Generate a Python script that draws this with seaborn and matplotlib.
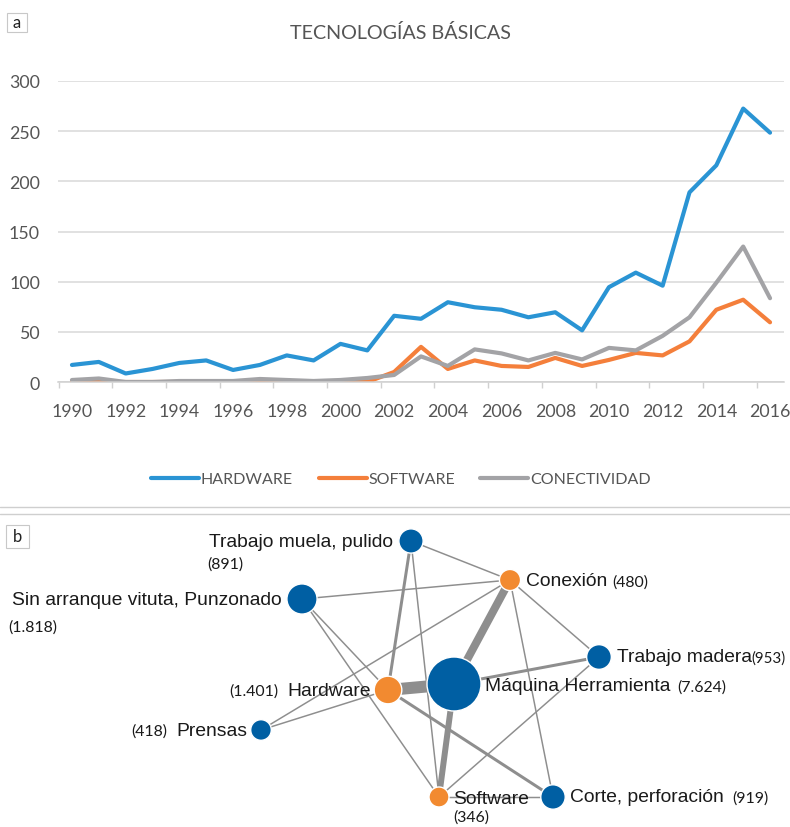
import numpy as np
import pandas as pd
import matplotlib.pyplot as plt
import seaborn as sns
from matplotlib.patches import Rectangle

# ---- datos panel a ----
years = list(range(1990, 2017))
hardware = [17, 20, 8.5, 13, 19, 21.5, 12, 17, 26.5, 21.5, 38, 31.5, 66,
            63, 79.5, 74.5, 72, 64.5, 69.5, 51.5, 94.5, 109, 96, 189, 216, 272.5, 248.5]
software = [0, 0, 0, 0, 0, 0, 0, 1, 0, 0, 0, 0, 10,
            35, 13, 21.5, 16, 15, 24, 16, 22, 29, 26.5, 40.5, 72, 82, 59.5]
conectividad = [2, 3.5, 0, 0, 1, 1, 1, 3, 2, 1, 2, 4, 7,
                25.5, 16, 32.5, 28.5, 21.5, 29, 22.5, 34, 31.5, 46, 64.5, 99, 135, 83.5]
series = ["HARDWARE", "SOFTWARE", "CONECTIVIDAD"]
series_colors = ["#2A94D4", "#F47F3B", "#A3A3A6"]

# ---- datos panel b (red) ----
node_names = ["Trabajo muela, pulido", "Sin arranque vituta, Punzonado", "Conexión",
              "Trabajo madera", "Máquina Herramienta", "Hardware", "Prensas",
              "Software", "Corte, perforación"]
node_counts = [891, 1818, 480, 953, 7624, 1401, 418, 346, 919]
node_type = ["maquina", "maquina", "tecnologia", "maquina", "maquina",
             "tecnologia", "maquina", "tecnologia", "maquina"]
node_x = [411, 302, 510, 599, 454, 388, 261, 439, 553]
node_y = [542, 600, 581, 658, 685, 691, 731, 798, 798]
count_labels = ["(891)", "(1.818)", "(480)", "(953)", "(7.624)", "(1.401)", "(418)", "(346)", "(919)"]
edges = [(0, 2, 1.5), (0, 5, 3), (0, 7, 1.5), (1, 2, 1.5), (1, 5, 1.5), (1, 7, 1.5),
         (2, 4, 8), (2, 3, 1.5), (2, 8, 1.5), (2, 6, 1.5), (6, 5, 1.5), (3, 4, 3),
         (3, 7, 1.5), (4, 5, 12), (4, 7, 6), (5, 8, 3), (7, 8, 1.5)]

sns.set_theme(style="white")
plt.rcParams["font.family"] = ["Lato", "DejaVu Sans"]

fig = plt.figure(figsize=(7.9, 8.28), dpi=100)
W, H = 790, 828

# ---------- panel a ----------
ax = fig.add_axes([58 / W, 1 - 383 / H, (784 - 58) / W, (383 - 82) / H])
df = pd.DataFrame({
    "año": years * 3,
    "valor": hardware + software + conectividad,
    "serie": [s for s in series for _ in years],
})
sns.lineplot(data=df, x="año", y="valor", hue="serie", hue_order=series,
             palette=series_colors, linewidth=3, legend=False, ax=ax)
for ln in ax.lines:
    ln.set_solid_joinstyle("round")
    ln.set_solid_capstyle("round")
ax.set_xlim(1989.48, 2016.52)
ax.set_ylim(0, 300)
ax.set_yticks([0, 50, 100, 150, 200, 250, 300])
ax.set_xticks(list(range(1990, 2017, 2)))
ax.set_xticks(np.arange(1989.5, 2017, 2), minor=True)
ax.grid(axis="y", color="#D9D9D9", linewidth=1.1)
ax.set_axisbelow(True)
for s in ["top", "right", "left"]:
    ax.spines[s].set_visible(False)
ax.spines["bottom"].set_color("#D0D0D0")
ax.spines["bottom"].set_linewidth(1.1)
ax.tick_params(axis="y", length=0, pad=13, labelsize=12.8, labelcolor="#555555")
ax.tick_params(axis="x", which="major", length=0, pad=15, labelsize=12.8, labelcolor="#555555")
ax.tick_params(axis="x", which="minor", length=4, width=1, color="#D0D0D0", bottom=True)
ax.set_xlabel("")
ax.set_ylabel("")
fig.text(400 / W, 1 - 33 / H, "TECNOLOGÍAS BÁSICAS", ha="center", va="center",
         fontsize=14.2, color="#555555")
ax.legend(handles=ax.lines[:3], labels=series, loc="center",
          bbox_to_anchor=(401 / W, 1 - 480 / H), bbox_transform=fig.transFigure,
          ncol=3, frameon=False, fontsize=11.5, handlelength=3.0, handletextpad=0.1,
          columnspacing=1.6, labelcolor="#555555")

# ---------- overlay / panel b ----------
axn = fig.add_axes([0, 0, 1, 1], zorder=-1)
axn.set_xlim(0, W)
axn.set_ylim(H, 0)
axn.axis("off")

# recuadros a / b y separadores
for (x0, y0, w, h, t) in [(7, 14, 20, 19, "a"), (6, 526, 23, 23, "b")]:
    axn.add_patch(Rectangle((x0, y0), w, h, fill=False, edgecolor="#C8C8C8", linewidth=0.8))
    axn.text(x0 + w / 2, y0 + h / 2, t, ha="center", va="center", fontsize=12,
             color="#222222", family=["Lato", "DejaVu Sans"])
axn.axhline(508, color="#CFCFCF", linewidth=1)
axn.axhline(515, color="#CFCFCF", linewidth=1)

for a, b, w in edges:
    axn.plot([node_x[a], node_x[b]], [node_y[a], node_y[b]], color="#8E8E8E",
             linewidth=w / 1.389, solid_capstyle="butt", zorder=1)

net = pd.DataFrame({"x": node_x, "y": node_y, "n": node_counts, "tipo": node_type})
sns.scatterplot(data=net, x="x", y="y", size="n", sizes=(207, 1512),
                size_norm=(346, 7624), hue="tipo",
                palette={"maquina": "#005FA3", "tecnologia": "#F28A30"},
                edgecolor="white", linewidth=1, legend=False, ax=axn, zorder=3)
axn.set_xlim(0, W)
axn.set_ylim(H, 0)
axn.axis("off")

name_font = dict(fontsize=13.9, color="#1A1A1A", family=["Liberation Sans", "DejaVu Sans"],
                 va="center", zorder=4)
num_font = dict(fontsize=11.4, color="#1A1A1A", family=["Lato", "DejaVu Sans"],
                va="center", zorder=4)

# nombres
axn.text(393, 543, node_names[0], ha="right", **name_font)
axn.text(282, 601, node_names[1], ha="right", **name_font)
axn.text(526, 582, node_names[2], ha="left", **name_font)
axn.text(617, 658, node_names[3], ha="left", **name_font)
axn.text(485, 687, node_names[4], ha="left", **name_font)
axn.text(371, 692, node_names[5], ha="right", **name_font)
axn.text(247, 732, node_names[6], ha="right", **name_font)
axn.text(453, 800, node_names[7], ha="left", **name_font)
axn.text(570, 798, node_names[8], ha="left", **name_font)
# cantidades
axn.text(207, 565, count_labels[0], ha="left", **num_font)
axn.text(8, 628, count_labels[1], ha="left", **num_font)
axn.text(612, 583, count_labels[2], ha="left", **num_font)
axn.text(786, 659, count_labels[3], ha="right", **dict(num_font, fontsize=10.8))
axn.text(677, 688, count_labels[4], ha="left", **num_font)
axn.text(278, 692, count_labels[5], ha="right", **num_font)
axn.text(167, 732, count_labels[6], ha="right", **num_font)
axn.text(453, 818, count_labels[7], ha="left", **num_font)
axn.text(732, 799, count_labels[8], ha="left", **num_font)

fig.savefig("out.png", dpi=100)
